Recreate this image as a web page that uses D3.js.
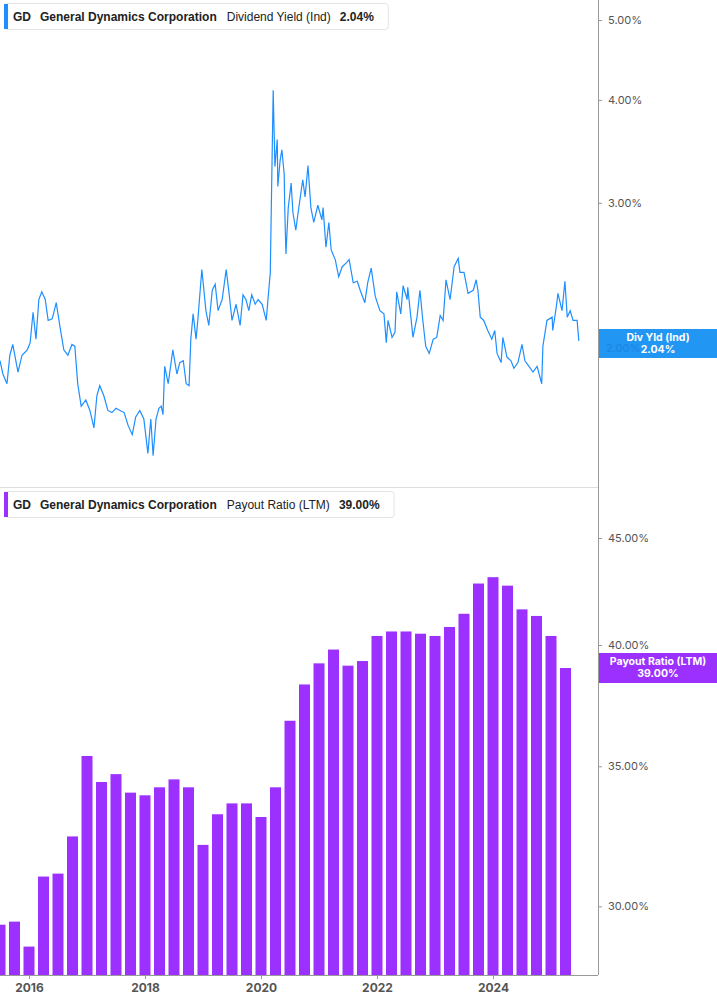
<!DOCTYPE html>
<html><head><meta charset="utf-8">
<script src="https://cdn.jsdelivr.net/npm/d3@7"></script>
<style>body{margin:0;background:#fff;font-family:Inter,"Noto Sans",sans-serif}</style>
</head><body><svg id="c" width="717" height="1005"></svg>
<script>
const divYears=[2015.50,2015.55,2015.62,2015.67,2015.72,2015.81,2015.88,2015.97,2016.02,2016.07,2016.12,2016.17,2016.22,2016.28,2016.33,2016.40,2016.47,2016.53,2016.60,2016.67,2016.74,2016.79,2016.84,2016.90,2016.98,2017.05,2017.12,2017.17,2017.22,2017.29,2017.36,2017.43,2017.50,2017.57,2017.64,2017.71,2017.78,2017.84,2017.91,2017.98,2018.05,2018.10,2018.14,2018.19,2018.24,2018.28,2018.31,2018.34,2018.40,2018.45,2018.48,2018.55,2018.60,2018.66,2018.71,2018.76,2018.79,2018.83,2018.88,2018.91,2018.98,2019.05,2019.10,2019.16,2019.21,2019.26,2019.33,2019.40,2019.45,2019.50,2019.57,2019.64,2019.69,2019.74,2019.79,2019.84,2019.90,2019.95,2020.02,2020.09,2020.12,2020.16,2020.21,2020.24,2020.28,2020.29,2020.33,2020.36,2020.40,2020.41,2020.43,2020.47,2020.52,2020.55,2020.60,2020.64,2020.72,2020.76,2020.81,2020.86,2020.91,2020.98,2021.05,2021.07,2021.12,2021.17,2021.21,2021.28,2021.34,2021.40,2021.48,2021.52,2021.59,2021.66,2021.71,2021.79,2021.84,2021.90,2021.97,2022.05,2022.12,2022.16,2022.19,2022.26,2022.31,2022.34,2022.41,2022.45,2022.52,2022.53,2022.62,2022.69,2022.74,2022.79,2022.84,2022.90,2022.97,2023.03,2023.09,2023.14,2023.19,2023.26,2023.33,2023.40,2023.43,2023.50,2023.57,2023.66,2023.71,2023.74,2023.78,2023.84,2023.91,2023.98,2024.03,2024.07,2024.14,2024.17,2024.24,2024.31,2024.36,2024.43,2024.50,2024.55,2024.62,2024.69,2024.76,2024.84,2024.86,2024.93,2025.02,2025.03,2025.09,2025.12,2025.19,2025.24,2025.28,2025.33,2025.38,2025.45,2025.48];
const divValues=[1.93,1.86,1.81,1.96,2.02,1.87,1.96,1.99,2.03,2.21,2.05,2.29,2.34,2.29,2.16,2.17,2.27,2.13,1.99,1.96,2.02,2.01,1.81,1.70,1.73,1.68,1.60,1.75,1.80,1.75,1.68,1.67,1.69,1.68,1.67,1.61,1.57,1.65,1.68,1.64,1.49,1.64,1.48,1.64,1.69,1.70,1.66,1.90,1.81,1.92,1.99,1.86,1.92,1.93,1.81,1.80,2.05,2.20,2.05,2.16,2.49,2.22,2.13,2.35,2.39,2.22,2.29,2.49,2.33,2.16,2.26,2.13,2.32,2.29,2.22,2.32,2.26,2.29,2.26,2.16,2.29,2.47,4.11,3.32,3.58,3.14,3.38,3.48,3.25,2.94,2.60,2.96,3.17,2.92,2.78,2.92,3.20,3.05,3.33,2.96,2.84,2.98,2.86,2.96,2.65,2.84,2.63,2.56,2.44,2.51,2.54,2.56,2.40,2.41,2.35,2.27,2.40,2.50,2.31,2.22,2.20,2.03,2.16,2.06,2.09,2.34,2.20,2.38,2.29,2.37,2.06,2.18,2.35,2.16,2.01,1.97,2.05,2.06,2.19,2.16,2.42,2.29,2.51,2.57,2.47,2.47,2.33,2.35,2.42,2.35,2.18,2.16,2.10,2.05,2.10,1.97,1.92,2.06,1.95,1.93,1.89,1.92,2.02,1.93,1.90,1.87,1.90,1.81,2.01,2.16,2.18,2.10,2.24,2.33,2.22,2.41,2.18,2.22,2.16,2.16,2.04];
const payoutQuarters=[2015.50,2015.75,2016.00,2016.25,2016.50,2016.75,2017.00,2017.25,2017.50,2017.75,2018.00,2018.25,2018.50,2018.75,2019.00,2019.25,2019.50,2019.75,2020.00,2020.25,2020.50,2020.75,2021.00,2021.25,2021.50,2021.75,2022.00,2022.25,2022.50,2022.75,2023.00,2023.25,2023.50,2023.75,2024.00,2024.25,2024.50,2024.75,2025.00,2025.25];
const payoutValues=[29.4,29.5,28.7,31.0,31.1,32.4,35.4,34.4,34.7,34.0,33.9,34.2,34.5,34.2,32.1,33.2,33.6,33.6,33.1,34.2,36.8,38.3,39.2,39.8,39.1,39.3,40.4,40.6,40.6,40.5,40.4,40.8,41.4,42.8,43.1,42.7,41.6,41.3,40.4,39.0];
const yearTicks=[2016,2018,2020,2022,2024];
const divTicks=[2,3,4,5];
const payoutTicks=[30,35,40,45];

const svg=d3.select("#c");
const R=598, B=975;
const x=d3.scaleLinear().domain([2016,2024]).range([29,493]);
const yTop=d3.scaleLog().domain([2,5]).range([348,20]);
const yBot=d3.scaleLog().domain([40,45]).range([645,538]);
const blue="#1e8fff", purple="#9b30ff", gray="#555";

svg.append("defs").append("clipPath").attr("id","cp").append("rect").attr("x",0).attr("y",0).attr("width",R).attr("height",B);

svg.append("g").attr("clip-path","url(#cp)").selectAll("rect").data(payoutValues).join("rect")
 .attr("x",(d,i)=>x(payoutQuarters[i])-5.5).attr("width",11)
 .attr("y",d=>yBot(d)).attr("height",d=>B-yBot(d)).attr("fill",purple);

svg.append("path").attr("clip-path","url(#cp)")
 .datum(divValues.map((v,i)=>[divYears[i],v]))
 .attr("d",d3.line().x(d=>x(d[0])).y(d=>yTop(d[1])))
 .attr("fill","none").attr("stroke",blue).attr("stroke-width",1.2);

svg.append("line").attr("x1",R+0.5).attr("x2",R+0.5).attr("y1",0).attr("y2",B).attr("stroke","#999");
svg.append("line").attr("x1",0).attr("x2",R).attr("y1",B+0.5).attr("y2",B+0.5).attr("stroke","#999");
svg.append("line").attr("x1",0).attr("x2",R).attr("y1",487.5).attr("y2",487.5).attr("stroke","#ddd");

const fmt=d=>d.toFixed(2)+"%";
const aTop=svg.append("g").attr("transform",`translate(${R},0)`).call(d3.axisRight(yTop).tickValues(divTicks.slice(1)).tickFormat(fmt).tickSize(4).tickPadding(6));
const aBot=svg.append("g").attr("transform",`translate(${R},0)`).call(d3.axisRight(yBot).tickValues(payoutTicks).tickFormat(fmt).tickSize(4).tickPadding(6));
const aX=svg.append("g").attr("transform",`translate(0,${B})`).call(d3.axisBottom(x).tickValues(yearTicks).tickFormat(d3.format("d")).tickSize(4).tickPadding(4));
[aTop,aBot,aX].forEach(a=>{a.select(".domain").remove();a.selectAll("line").attr("stroke","#999");a.selectAll("text").attr("fill",gray).attr("font-family","Inter,sans-serif").attr("font-size",11);});
aX.selectAll("text").attr("font-weight","bold").attr("font-size",12);

function badge(y0,h,color,l1,l2){
 const g=svg.append("g");
 g.append("rect").attr("x",R+1).attr("y",y0).attr("width",717-R-1).attr("height",h).attr("fill",color);
 g.append("text").attr("x",658).attr("y",y0+12).attr("text-anchor","middle").attr("fill","#fff").attr("font-size",10.5).attr("font-weight","bold").text(l1);
 g.append("text").attr("x",658).attr("y",y0+24).attr("text-anchor","middle").attr("fill","#fff").attr("font-size",10.5).attr("font-weight","bold").text(l2);
}
badge(329,29,"#2196f3","Div Yld (Ind)",fmt(divValues[divValues.length-1]));
// hidden 2.00% tick label peeking behind badge
svg.append("text").attr("x",R+8).attr("y",yTop(divTicks[0])+4).attr("font-size",11).attr("fill","#1565c0").attr("opacity",0.35).text(fmt(divTicks[0]));
badge(653,30,purple,"Payout Ratio (LTM)",fmt(payoutValues[payoutValues.length-1]));

function legend(y0,color,metric,val){
 const g=svg.append("g").attr("font-size",12).attr("fill","#222").attr("font-family","'Liberation Sans',Arial,sans-serif");
 const box=g.append("rect").attr("x",4.5).attr("y",y0+0.5).attr("height",26).attr("rx",3).attr("fill","#fff").attr("stroke","#e4e4e4");
 g.append("rect").attr("x",4).attr("y",y0+1).attr("width",4).attr("height",25).attr("fill",color);
 const ty=y0+18;
 const parts=[["GD",true,13],["General Dynamics Corporation",true,9],[metric,false,10],[val,true,9]];
 let cx=0;
 parts.forEach(([t,b,gap])=>{cx+=gap;const el=g.append("text").attr("x",cx).attr("y",ty).attr("font-weight",b?"bold":"normal").text(t);cx+=el.node().getComputedTextLength();});
 box.attr("width",cx+10);
}
legend(3,blue,"Dividend Yield (Ind)",fmt(divValues[divValues.length-1]));
legend(491,purple,"Payout Ratio (LTM)",fmt(payoutValues[payoutValues.length-1]));
</script></body></html>
